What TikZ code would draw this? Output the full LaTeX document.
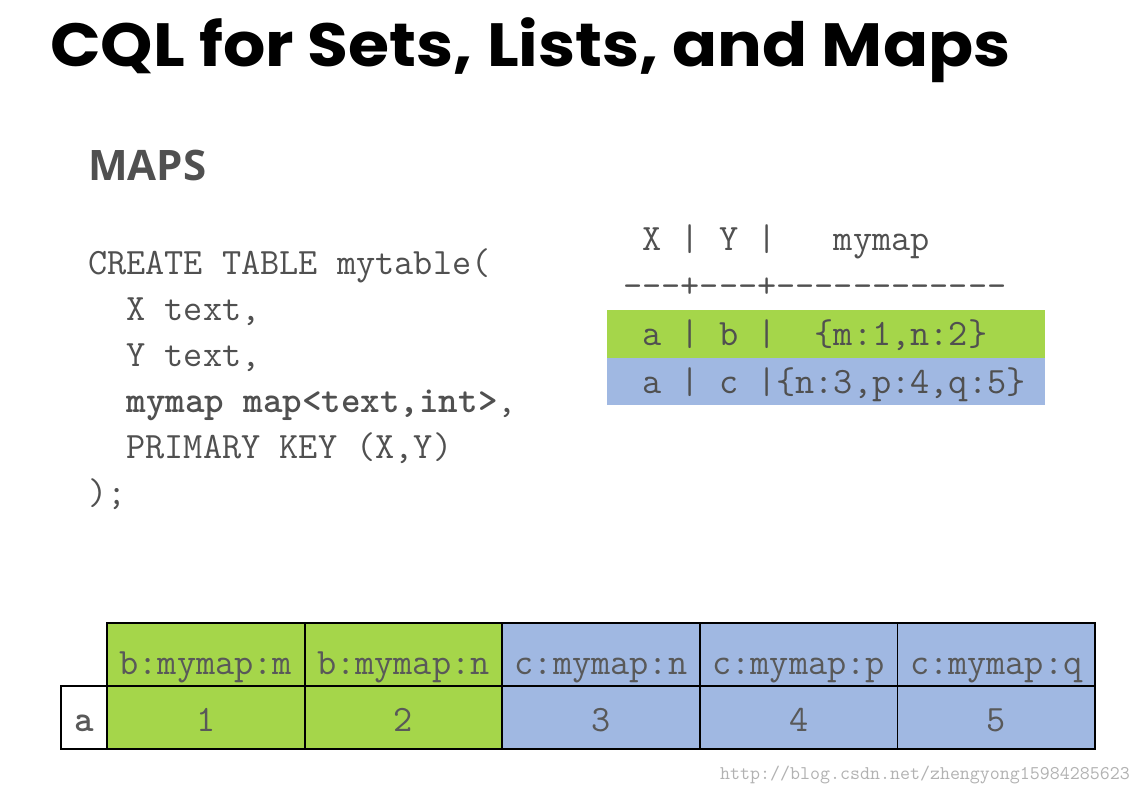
\documentclass[tikz,border=0pt]{standalone}
\usepackage{fontspec}
\setmainfont{Liberation Sans}
\newfontfamily\titlefont{Poppins}
\newfontfamily\headfont{Open Sans}
\usetikzlibrary{positioning}

\definecolor{mapgreen}{RGB}{165,214,74}
\definecolor{mapblue}{RGB}{160,184,226}
\definecolor{codegray}{RGB}{80,80,80}

\begin{document}
\begin{tikzpicture}[
        x=1pt, y=-1pt,
        codeline/.style={anchor=base west, inner sep=0pt, text=codegray, font=\fontsize{37.2}{37}\selectfont\ttfamily},
        band/.style={anchor=north west, inner sep=0pt, minimum width=438pt, minimum height=47.5pt},
        cell/.style={rectangle, draw=black, line width=1.8pt, inner sep=0pt, outer sep=0pt, minimum width=197.6pt, minimum height=63pt, text=black!65, text height=28pt, text depth=0pt, font=\fontsize{37.2}{37}\selectfont\ttfamily},
        hcell/.style={cell, text height=40pt},
        gcell/.style={fill=mapgreen},
        bcell/.style={fill=mapblue}
    ]
        \useasboundingbox[fill=white] (0,0) rectangle (1142,790);

        % Title
        \node[anchor=base west, inner sep=0pt, xscale=1.09, transform shape, font=\titlefont\bfseries\fontsize{61}{61}\selectfont] (heading) at (50,66) {CQL for Sets, Lists, and Maps};
        \node[anchor=base west, inner sep=0pt, text=codegray, font=\headfont\bfseries\fontsize{42}{42}\selectfont] (maps) at (88,180) {MAPS};

        % Table definition
        \node[codeline] (c1) at (88,274) {CREATE TABLE mytable(};
        \node[codeline] (c2) at (88,320) {~~X text,};
        \node[codeline] (c3) at (88,366) {~~Y text,};
        \node[codeline] (c4) at (88,412) {~~\textbf{mymap map<text,int>},};
        \node[codeline] (c5) at (88,458) {~~PRIMARY KEY (X,Y)};
        \node[codeline] (c6) at (88,504) {);};

        % Query result
        \node[band, fill=mapgreen] (bandb) at (607,310) {};
        \node[band, fill=mapblue] (bandc) at (607,357.5) {};
        \node[codeline] (hdr) at (623,250) {~X~|~Y~|~~~mymap};
        \node[codeline] (sep) at (623,297) {---+---+------------};
        \node[codeline] (rowb) at (623,345) {~a~|~b~|~~\{m:1,n:2\}};
        \node[codeline] (rowc) at (623,393) {~a~|~c~|\{n:3,p:4,q:5\}};

        % Storage layout
        \node[hcell, gcell] (hm) at (205.8,654.5) {b:mymap:m};
        \node[hcell, gcell, right=0pt of hm] (hn) {b:mymap:n};
        \node[hcell, bcell, right=0pt of hn] (cn) {c:mymap:n};
        \node[hcell, bcell, right=0pt of cn] (cp) {c:mymap:p};
        \node[hcell, bcell, right=0pt of cp] (cq) {c:mymap:q};
        \node[cell, gcell, below=0pt of hm] (v1) {1};
        \node[cell, gcell, below=0pt of hn] (v2) {2};
        \node[cell, bcell, below=0pt of cn] (v3) {3};
        \node[cell, bcell, below=0pt of cp] (v4) {4};
        \node[cell, bcell, below=0pt of cq] (v5) {5};
        \node[cell, fill=white, minimum width=46pt, left=0pt of v1] (key) {\textbf{a}};

        \node[anchor=base west, inner sep=0pt, text=black!30, font=\ttfamily\fontsize{19.4}{19}\selectfont] (mark) at (720,779) {http://blog.csdn.net/zhengyong15984285623};
    \end{tikzpicture}
\end{document}
